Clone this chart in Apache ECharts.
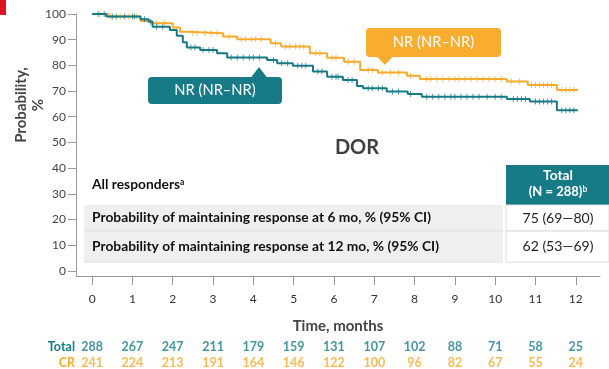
<!DOCTYPE html>
<html><head><meta charset="utf-8">
<script src="https://cdn.jsdelivr.net/npm/echarts@6/dist/echarts.min.js"></script>
<style>html,body{margin:0;padding:0;background:#fff}#c{width:609px;height:369px}</style>
</head><body><div id="c"></div>
<script>
// ---- data ----
var xTicks = [0,1,2,3,4,5,6,7,8,9,10,11,12];
var yTicks = [0,10,20,30,40,50,60,70,80,90,100];
// Kaplan-Meier steps [time (months), probability %] — Total (teal)
var totalSteps = [[0,100],[0.35,99],[1.2,98],[1.4,97],[1.5,95],[1.93,93.8],[2.1,91.5],[2.25,89],[2.35,87],[2.68,86],[3.1,84.7],[3.35,83.1],[4.34,82.1],[4.59,80.8],[4.98,79.9],[5.48,77.6],[5.83,75.6],[6.22,74.3],[6.57,72],[6.72,71.1],[7.31,69.8],[7.83,68.9],[8.18,67.8],[10.29,66.9],[10.86,65.9],[11.53,62.5],[12.05,62.5]];
// CR (orange)
var crSteps = [[0,100],[0.4,99],[1.2,97.3],[1.49,96.4],[2.0,94.7],[2.18,93.1],[2.36,92.5],[3.25,91.2],[3.6,90.2],[4.43,88.6],[4.69,87.3],[5.4,84.7],[5.83,83.0],[6.25,81.4],[6.65,78.2],[7.09,77.2],[7.81,76],[8.13,74.7],[10.29,73.7],[10.81,72.4],[11.53,70.4],[12.05,70.4]];
// censoring times
var totalCensor = [0.15,0.3,0.5,0.6,0.8,1.0,1.05,1.3,1.45,1.6,1.75,2.45,2.55,2.75,2.9,3.0,3.45,3.6,3.75,3.9,4.0,4.15,4.5,4.7,4.85,5.1,5.2,5.3,5.6,5.7,5.95,6.05,6.1,6.35,6.45,6.85,6.95,7.1,7.2,7.45,7.6,7.9,8.3,8.45,8.6,8.75,8.9,9.0,9.15,9.3,9.45,9.6,9.8,10.0,10.15,10.45,10.55,10.65,10.75,11.0,11.1,11.2,11.3,11.4,11.65,11.75,11.85,11.95];
var crCensor = [0.2,0.45,0.7,0.9,1.1,1.6,1.8,2.5,2.6,2.8,2.95,3.1,3.4,3.7,3.8,3.95,4.05,4.2,4.55,4.8,4.9,5.05,5.15,5.25,5.55,5.65,5.95,6.05,6.35,6.5,6.85,6.95,7.2,7.4,7.6,7.9,8.3,8.4,8.55,8.7,8.85,9.0,9.1,9.25,9.4,9.55,9.7,9.85,10.0,10.15,10.4,10.6,10.9,11.0,11.1,11.2,11.3,11.4,11.65,11.75,11.85,11.95];
// numbers at risk
var riskTotal = [288,267,247,211,179,159,131,107,102,88,71,58,25];
var riskCR = [241,224,213,191,164,146,122,100,96,82,67,55,24];
var riskRows = ['CR','Total'];
// texts
var calloutTotal = 'NR (NR\u2013NR)';
var calloutCR = 'NR (NR\u2013NR)';
var tableHeader = ['Total', '(N = 288)'];
var tableRows = [
  ['Probability of maintaining response at 6 mo, % (95% CI)', '75 (69\u201480)'],
  ['Probability of maintaining response at 12 mo, % (95% CI)', '62 (53\u201469)']
];

// ---- rendering ----
var TEAL = '#167a87', ORANGE = '#f8aa2b', FONT = 'Lato, "Open Sans", sans-serif';
function stepAt(steps, t){ var v = steps[0][1]; for (var i=0;i<steps.length;i++){ if (steps[i][0] <= t) v = steps[i][1]; } return v; }
function censorPts(steps, times){ return times.map(function(t){ return [t, stepAt(steps,t)]; }); }
function riskData(arr, row){ return arr.map(function(n,i){ return [xTicks[i], row, n]; }); }

var chart = echarts.init(document.getElementById('c'), null, {renderer:'canvas'});
var tx = 92;
chart.setOption({
  animation:false,
  textStyle:{fontFamily:FONT},
  grid:[{left:76, right:9, top:14, bottom:93, outerBoundsMode:'none'},{left:76, right:9, top:347, height:16, outerBoundsMode:'none'}],
  xAxis:[{
    type:'value', min:-0.4, max:12.6, gridIndex:0,
    axisLine:{show:true, onZero:false, lineStyle:{color:'#9a9a9a', width:1}},
    axisTick:{show:true, length:9, customValues:xTicks, lineStyle:{color:'#9a9a9a'}},
    axisLabel:{customValues:xTicks, margin:17, color:'#333', fontSize:12, fontFamily:FONT},
    splitLine:{show:false},
    name:'Time, months', nameLocation:'middle', nameGap:43,
    nameTextStyle:{fontSize:15, fontWeight:'bold', color:'#444', fontFamily:FONT}
  },{
    type:'value', min:-0.4, max:12.6, gridIndex:1, show:false
  }],
  yAxis:[{
    type:'value', min:-2, max:100, gridIndex:0,
    axisLine:{show:true, onZero:false, lineStyle:{color:'#9a9a9a', width:1}},
    axisTick:{show:true, length:8, customValues:yTicks, lineStyle:{color:'#9a9a9a'}},
    axisLabel:{customValues:yTicks, margin:10, color:'#444', fontSize:12, fontFamily:FONT},
    splitLine:{show:false}
  },{
    type:'value', gridIndex:1, min:0, max:1,
    axisLine:{show:false}, axisTick:{show:false}, splitLine:{show:false},
    axisLabel:{show:true, customValues:[0,1], margin:1, fontSize:12.5, fontWeight:'bold', fontFamily:FONT,
      formatter:function(v){ return riskRows[v]==='Total' ? '{t|Total}' : '{c|CR}'; },
      rich:{t:{color:TEAL, fontWeight:'bold', fontSize:12.5, fontFamily:FONT}, c:{color:ORANGE, fontWeight:'bold', fontSize:12.5, fontFamily:FONT}}}
  }],
  series:[
    {type:'line', step:'end', data:crSteps, showSymbol:false, symbol:'none', lineStyle:{color:ORANGE, width:2}, z:3},
    {type:'line', step:'end', data:totalSteps, showSymbol:false, symbol:'none', lineStyle:{color:TEAL, width:2}, z:4},
    {type:'scatter', data:censorPts(crSteps, crCensor), symbol:'rect', symbolSize:[1,6], itemStyle:{color:ORANGE, opacity:0.75}, z:3},
    {type:'scatter', data:censorPts(totalSteps, totalCensor), symbol:'rect', symbolSize:[1,6], itemStyle:{color:TEAL, opacity:0.75}, z:4},
    {type:'scatter', xAxisIndex:1, yAxisIndex:1, clip:false, data:riskData(riskTotal,1), symbolSize:2, itemStyle:{color:'rgba(0,0,0,0)'},
      label:{show:true, position:'inside', formatter:function(p){return '{n|'+p.value[2]+'}';}, rich:{n:{color:TEAL, fontWeight:700, fontSize:12.5, fontFamily:FONT}}}},
    {type:'scatter', xAxisIndex:1, yAxisIndex:1, clip:false, data:riskData(riskCR,0), symbolSize:2, itemStyle:{color:'rgba(0,0,0,0)'},
      label:{show:true, position:'inside', formatter:function(p){return '{n|'+p.value[2]+'}';}, rich:{n:{color:ORANGE, fontWeight:700, fontSize:12.5, fontFamily:FONT}}}}
  ],
  graphic:[
    {type:'rect', shape:{x:0,y:0,width:6,height:15}, style:{fill:'#d9161f'}},
    {type:'text', x:30, y:105, rotation:Math.PI/2, style:{text:'Probability,\n%', textAlign:'center', textVerticalAlign:'middle', fill:'#444', font:'bold 15px '+FONT, lineHeight:17}},
    // teal callout
    {type:'rect', shape:{x:148,y:77,width:134,height:27,r:4}, style:{fill:TEAL}},
    {type:'polygon', shape:{points:[[251,77.5],[259,67],[267,77.5]]}, style:{fill:TEAL}},
    {type:'text', x:215, y:90.5, style:{text:calloutTotal, textAlign:'center', textVerticalAlign:'middle', fill:'#fff', font:'14.7px '+FONT}},
    // orange callout
    {type:'rect', shape:{x:366,y:28,width:135,height:29,r:4}, style:{fill:'#f9ad2f'}},
    {type:'polygon', shape:{points:[[377,56.5],[385,65],[393,56.5]]}, style:{fill:'#f9ad2f'}},
    {type:'text', x:433.5, y:42.5, style:{text:calloutCR, textAlign:'center', textVerticalAlign:'middle', fill:'#fff', font:'14.7px '+FONT}},
    // DOR title
    {type:'text', x:357, y:148, style:{text:'DOR', textAlign:'center', textVerticalAlign:'middle', fill:'#404040', font:'bold 20px '+FONT}},
    // table
    {type:'text', x:tx, y:185, style:{text:'{b|All responders}{s|a}', textVerticalAlign:'middle', rich:{b:{font:'bold 13.8px '+FONT, fill:'#111'}, s:{font:'bold 8.5px '+FONT, fill:'#111', verticalAlign:'top', padding:[0,0,6,0]}}}},
    {type:'rect', shape:{x:506,y:165,width:103,height:40}, style:{fill:TEAL}},
    {type:'text', x:558, y:176, style:{text:tableHeader[0], textAlign:'center', textVerticalAlign:'middle', fill:'#fff', font:'bold 13.8px '+FONT}},
    {type:'text', x:558, y:192, style:{text:'{n|'+tableHeader[1]+'}{s|b}', textAlign:'center', textVerticalAlign:'middle', rich:{n:{font:'bold 13px '+FONT, fill:'#fff'}, s:{font:'bold 8.5px '+FONT, fill:'#fff', verticalAlign:'top', padding:[0,0,6,0]}}}},
    {type:'rect', shape:{x:84,y:205,width:419,height:26}, style:{fill:'#efefef'}},
    {type:'rect', shape:{x:84,y:231.5,width:419,height:30}, style:{fill:'#efefef'}},
    {type:'line', shape:{x1:84,y1:231,x2:503,y2:231}, style:{stroke:'#dcdcdc', lineWidth:1}},
    {type:'line', shape:{x1:84,y1:262,x2:503,y2:262}, style:{stroke:'#dcdcdc', lineWidth:1}},
    {type:'rect', shape:{x:506,y:205,width:103,height:26}, style:{fill:'#fff', stroke:'#dcdcdc', lineWidth:1}},
    {type:'rect', shape:{x:506,y:231,width:103,height:31}, style:{fill:'#fff', stroke:'#dcdcdc', lineWidth:1}},
    {type:'text', x:tx, y:218, style:{text:tableRows[0][0], textVerticalAlign:'middle', fill:'#111', font:'bold 13.8px '+FONT}},
    {type:'text', x:tx, y:246.5, style:{text:tableRows[1][0], textVerticalAlign:'middle', fill:'#111', font:'bold 13.8px '+FONT}},
    {type:'text', x:558, y:218, style:{text:tableRows[0][1], textAlign:'center', textVerticalAlign:'middle', fill:'#222', font:'14px '+FONT}},
    {type:'text', x:558, y:246.5, style:{text:tableRows[1][1], textAlign:'center', textVerticalAlign:'middle', fill:'#222', font:'14px '+FONT}}
  ]
});
</script></body></html>
